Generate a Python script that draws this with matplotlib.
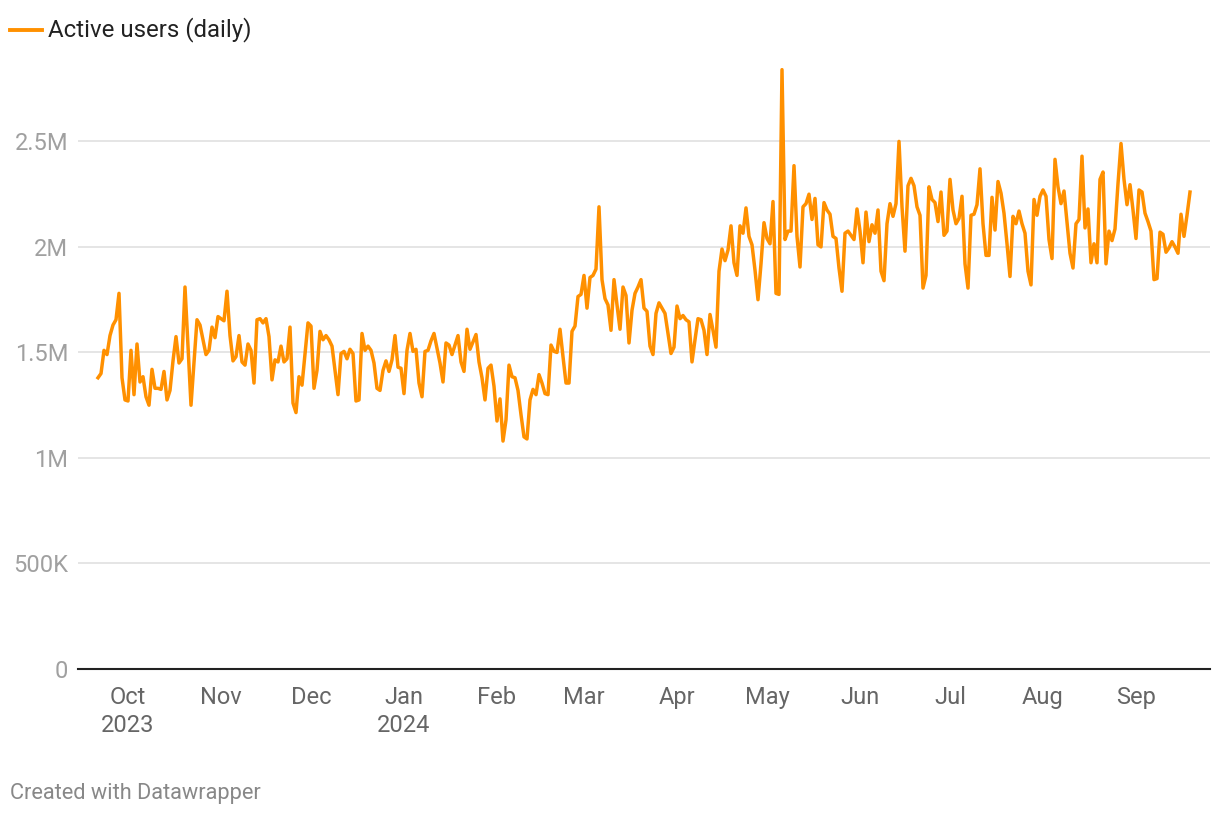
import numpy as np
import pandas as pd
import matplotlib
matplotlib.use("Agg")
import matplotlib.pyplot as plt
from matplotlib.lines import Line2D

plt.rcParams['font.family'] = ['Roboto', 'DejaVu Sans']

# daily active users, millions, starting 2023-09-21
start_date = "2023-09-21"
users_m = [
    1.38, 1.40, 1.51, 1.49, 1.58, 1.63, 1.655, 1.78, 1.38, 1.275,
    1.27, 1.51, 1.30, 1.54, 1.36, 1.385, 1.29, 1.25, 1.42, 1.33,
    1.33, 1.325, 1.41, 1.275, 1.32, 1.46, 1.575, 1.45, 1.47, 1.81,
    1.53, 1.25, 1.45, 1.655, 1.63, 1.56, 1.49, 1.51, 1.62, 1.57,
    1.67, 1.66, 1.65, 1.79, 1.58, 1.46, 1.48, 1.58, 1.455, 1.44,
    1.54, 1.51, 1.355, 1.655, 1.66, 1.64, 1.66, 1.575, 1.37, 1.465,
    1.455, 1.53, 1.455, 1.47, 1.62, 1.26, 1.215, 1.385, 1.345, 1.49,
    1.64, 1.625, 1.33, 1.415, 1.60, 1.56, 1.58, 1.56, 1.53, 1.415,
    1.30, 1.495, 1.505, 1.47, 1.515, 1.495, 1.27, 1.275, 1.59, 1.51,
    1.53, 1.51, 1.45, 1.33, 1.32, 1.415, 1.46, 1.41, 1.465, 1.58,
    1.43, 1.425, 1.305, 1.51, 1.59, 1.505, 1.515, 1.355, 1.29, 1.505,
    1.51, 1.555, 1.59, 1.52, 1.45, 1.36, 1.545, 1.535, 1.49, 1.535,
    1.58, 1.455, 1.41, 1.61, 1.515, 1.55, 1.585, 1.455, 1.38, 1.275,
    1.425, 1.44, 1.34, 1.175, 1.28, 1.08, 1.18, 1.44, 1.385, 1.38,
    1.32, 1.205, 1.10, 1.09, 1.275, 1.325, 1.30, 1.395, 1.355, 1.305,
    1.30, 1.535, 1.505, 1.50, 1.61, 1.48, 1.355, 1.355, 1.60, 1.625,
    1.765, 1.775, 1.865, 1.71, 1.855, 1.865, 1.895, 2.19, 1.845, 1.755,
    1.725, 1.605, 1.845, 1.725, 1.61, 1.81, 1.77, 1.545, 1.70, 1.78,
    1.81, 1.845, 1.71, 1.695, 1.53, 1.49, 1.685, 1.735, 1.71, 1.685,
    1.59, 1.495, 1.525, 1.72, 1.66, 1.675, 1.655, 1.645, 1.455, 1.56,
    1.66, 1.655, 1.605, 1.49, 1.68, 1.605, 1.525, 1.885, 1.99, 1.935,
    1.985, 2.10, 1.925, 1.865, 2.10, 2.065, 2.185, 2.05, 2.01, 1.89,
    1.75, 1.92, 2.115, 2.04, 2.015, 2.215, 1.78, 1.775, 2.84, 2.035,
    2.075, 2.075, 2.385, 2.05, 1.905, 2.19, 2.205, 2.25, 2.13, 2.23,
    2.01, 2.00, 2.21, 2.175, 2.155, 2.05, 2.04, 1.90, 1.79, 2.065,
    2.075, 2.055, 2.035, 2.18, 2.075, 1.925, 2.165, 2.025, 2.105, 2.065,
    2.175, 1.885, 1.84, 2.11, 2.205, 2.145, 2.205, 2.50, 2.19, 1.98,
    2.29, 2.325, 2.29, 2.19, 2.15, 1.805, 1.865, 2.285, 2.225, 2.21,
    2.12, 2.26, 2.055, 2.075, 2.32, 2.175, 2.11, 2.135, 2.24, 1.92,
    1.805, 2.15, 2.155, 2.20, 2.37, 2.11, 1.96, 1.96, 2.235, 2.08,
    2.31, 2.255, 2.16, 2.015, 1.86, 2.145, 2.11, 2.17, 2.11, 2.065,
    1.885, 1.82, 2.225, 2.15, 2.24, 2.27, 2.24, 2.035, 1.945, 2.415,
    2.285, 2.205, 2.265, 2.12, 1.97, 1.90, 2.11, 2.13, 2.43, 2.09,
    2.18, 1.925, 2.015, 1.925, 2.32, 2.355, 1.92, 2.075, 2.03, 2.085,
    2.30, 2.49, 2.32, 2.20, 2.295, 2.175, 2.04, 2.27, 2.26, 2.16,
    2.12, 2.075, 1.845, 1.85, 2.07, 2.06, 1.975, 1.995, 2.025, 2.00,
    1.97, 2.155, 2.05, 2.15, 2.26,
]

y_ticks = [0, 500000, 1000000, 1500000, 2000000, 2500000]
y_tick_labels = ["0", "500K", "1M", "1.5M", "2M", "2.5M"]
x_tick_dates = ["2023-10-01", "2023-11-01", "2023-12-01", "2024-01-01", "2024-02-01",
                "2024-03-01", "2024-04-01", "2024-05-01", "2024-06-01", "2024-07-01",
                "2024-08-01", "2024-09-01"]
x_tick_labels = ["Oct\n2023", "Nov", "Dec", "Jan\n2024", "Feb", "Mar", "Apr", "May",
                 "Jun", "Jul", "Aug", "Sep"]

dates = pd.date_range(start_date, periods=len(users_m), freq="D")
values = np.array(users_m) * 1e6

fig = plt.figure(figsize=(12.2, 8.16), dpi=100)
ax = fig.add_axes([78 / 1220, (816 - 669) / 816, (1210 - 78) / 1220, (669 - 57) / 816])

ax.plot(dates, values, color="#ff9000", linewidth=2.5, solid_joinstyle="round", zorder=3)

ax.set_ylim(0, 2.9e6)
ax.set_xlim(pd.Timestamp("2023-09-14 08:00"), pd.Timestamp("2024-09-25 16:00"))

ax.set_yticks(y_ticks)
ax.set_yticklabels(y_tick_labels)
ax.set_xticks([pd.Timestamp(d) for d in x_tick_dates])
ax.set_xticklabels(x_tick_labels, linespacing=1.3)

ax.grid(axis="y", color="#e0e0e0", linewidth=1.2, zorder=0)
ax.grid(axis="x", visible=False)
for s in ["top", "right", "left"]:
    ax.spines[s].set_visible(False)
ax.spines["bottom"].set_color("#222222")
ax.spines["bottom"].set_linewidth(1.5)
ax.spines["bottom"].set_zorder(4)

ax.tick_params(axis="y", length=0, pad=7, labelsize=17, labelcolor="#a0a0a0")
ax.tick_params(axis="x", length=0, pad=12, labelsize=17, labelcolor="#666666")

# legend
fig.add_artist(Line2D([10 / 1220, 42 / 1220], [1 - 30 / 816, 1 - 30 / 816],
                      color="#ff9000", linewidth=2.8, transform=fig.transFigure))
fig.text(48 / 1220, 1 - 30 / 816, "Active users (daily)", fontsize=17.3,
         color="#222222", va="center", ha="left")

fig.text(10 / 1220, 1 - 793 / 816, "Created with Datawrapper", fontsize=15.7,
         color="#888888", va="center", ha="left")

fig.savefig("out.png", dpi=100)
